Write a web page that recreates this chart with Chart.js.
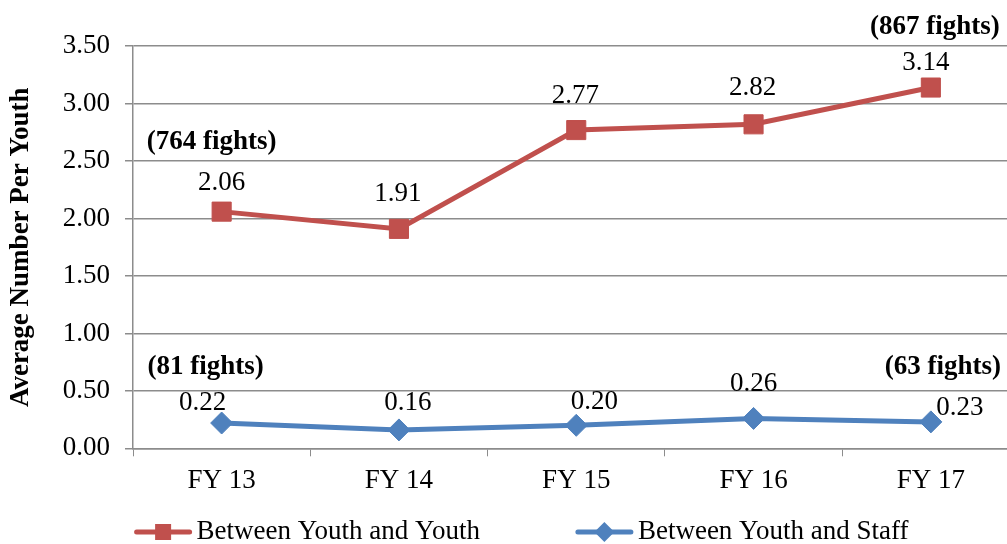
<!DOCTYPE html>
<html>
<head>
<meta charset="utf-8">
<script src="https://cdn.jsdelivr.net/npm/chart.js@4.4.1/dist/chart.umd.min.js"></script>
<style>
  html, body { margin: 0; padding: 0; background: #ffffff; overflow: hidden; }
  #wrap { position: relative; width: 1007px; height: 544px; overflow: hidden; }
  #chart { position: absolute; left: 0; top: 0; display: block; width: 1020px; height: 544px; }
</style>
</head>
<body>
<div id="wrap"><canvas id="chart" width="1020" height="544"></canvas></div>
<script>
// Fiscal years and average fights per youth
const categories = ['FY 13', 'FY 14', 'FY 15', 'FY 16', 'FY 17'];
const youthYouth = [2.06, 1.91, 2.77, 2.82, 3.14];
const youthStaff = [0.22, 0.16, 0.20, 0.26, 0.23];
const seriesNames = ['Between Youth and Youth', 'Between Youth and Staff'];
const yTicks = [0, 0.5, 1.0, 1.5, 2.0, 2.5, 3.0, 3.5];
const yTitle = 'Average Number Per Youth';
const fightNotes = ['(764 fights)', '(867 fights)', '(81 fights)', '(63 fights)'];

// Placement of the value labels (pixel offset from each point)
const labelOffsets = [
  [[0, -29], [-1, -35], [-1, -34], [-1, -36], [-5, -25]],
  [[-19, -20], [9, -27], [18, -23], [0, -35], [29, -14]]
];
// Placement of the fight-count notes: category index, height on the value axis, pixel nudge
const notePlacement = [
  { cat: 0, at: 2.665, dx: -10 },
  { cat: 4, at: 3.667, dx: 4 },
  { cat: 0, at: 0.707, dx: -16 },
  { cat: 4, at: 0.707, dx: 12 }
];

const RED = '#C0504D';
const BLUE = '#4F81BD';
const GRID = '#8C8C8C';
const FONT = "'Liberation Serif', 'Times New Roman', serif";
const FS = 27;

const valueLabels = {
  id: 'valueLabels',
  afterDatasetsDraw(chart) {
    const ctx = chart.ctx;
    ctx.save();
    ctx.font = FS + 'px ' + FONT;
    ctx.fillStyle = '#000';
    ctx.textAlign = 'center';
    ctx.textBaseline = 'middle';
    chart.data.datasets.forEach((ds, di) => {
      const meta = chart.getDatasetMeta(di);
      meta.data.forEach((pt, i) => {
        const off = labelOffsets[di][i];
        ctx.fillText(ds.data[i].toFixed(2), pt.x + off[0], pt.y + off[1]);
      });
    });
    // fight-count notes
    ctx.font = 'bold ' + FS + 'px ' + FONT;
    const xs = chart.scales.x, ys = chart.scales.y;
    fightNotes.forEach((t, k) => {
      const p = notePlacement[k];
      ctx.fillText(t, xs.getPixelForValue(p.cat) + p.dx, ys.getPixelForValue(p.at));
    });
    ctx.restore();
  }
};

// Legend with a line segment and marker for each series
const lineLegend = {
  id: 'lineLegend',
  afterDraw(chart) {
    const ctx = chart.ctx;
    ctx.save();
    ctx.font = FS + 'px ' + FONT;
    const segLen = 57, gap = 5, itemGap = 96, cy = 532, centerX = 521.5;
    const items = chart.data.datasets.map(ds => ({ ds, w: ctx.measureText(ds.label).width }));
    const total = items.reduce((s, it) => s + segLen + gap + it.w, 0) + itemGap * (items.length - 1);
    let x = centerX - total / 2;
    items.forEach(({ ds, w }) => {
      ctx.strokeStyle = ds.borderColor;
      ctx.lineWidth = 5;
      ctx.lineCap = 'round';
      ctx.beginPath();
      ctx.moveTo(x + 2, cy);
      ctx.lineTo(x + segLen - 2, cy);
      ctx.stroke();
      const mx = x + segLen / 2;
      ctx.fillStyle = ds.backgroundColor;
      ctx.beginPath();
      if (ds.pointStyle === 'rect') {
        ctx.rect(mx - 8, cy - 8, 16, 16);
      } else {
        ctx.moveTo(mx, cy - 10); ctx.lineTo(mx + 10, cy); ctx.lineTo(mx, cy + 10); ctx.lineTo(mx - 10, cy);
        ctx.closePath();
      }
      ctx.fill();
      ctx.fillStyle = '#000';
      ctx.textAlign = 'left';
      ctx.textBaseline = 'middle';
      ctx.fillText(ds.label, x + segLen + gap, cy);
      x += segLen + gap + w + itemGap;
    });
    ctx.restore();
  }
};

new Chart(document.getElementById('chart'), {
  type: 'line',
  data: {
    labels: categories,
    datasets: [
      {
        label: seriesNames[0],
        data: youthYouth,
        borderColor: RED,
        backgroundColor: RED,
        borderWidth: 5,
        pointStyle: 'rect',
        pointRadius: 13.5,
        pointBorderWidth: 1,
        pointHoverRadius: 13.5,
        tension: 0
      },
      {
        label: seriesNames[1],
        data: youthStaff,
        borderColor: BLUE,
        backgroundColor: BLUE,
        borderWidth: 5,
        pointStyle: 'rectRot',
        pointRadius: 11,
        pointBorderWidth: 1,
        pointHoverRadius: 11,
        tension: 0
      }
    ]
  },
  options: {
    responsive: false,
    maintainAspectRatio: false,
    devicePixelRatio: 1,
    animation: false,
    layout: { autoPadding: false, padding: { top: 46.2, right: 0.5, bottom: 55.7, left: 0 } },
    plugins: {
      legend: { display: false },
      tooltip: { enabled: false }
    },
    scales: {
      x: {
        offset: true,
        grid: { display: true, drawOnChartArea: false, drawTicks: true, tickLength: 8, color: GRID, offset: true },
        border: { display: true, color: GRID, width: 1.5 },
        ticks: { color: '#000', font: { family: FONT, size: FS }, padding: 8, maxRotation: 0 },
        afterFit(scale) { scale.height = 40; }
      },
      y: {
        min: 0,
        max: 3.5,
        afterBuildTicks(scale) { scale.ticks = yTicks.map(v => ({ value: v })); },
        grid: { color: GRID, lineWidth: 1.5, tickLength: 8, drawTicks: true },
        border: { display: true, color: GRID, width: 1.5 },
        ticks: {
          color: '#000',
          font: { family: FONT, size: FS },
          padding: 15,
          callback: v => Number(v).toFixed(2)
        },
        title: {
          display: true,
          text: yTitle,
          color: '#000',
          font: { family: FONT, size: FS, weight: 'bold' },
          padding: { top: 5, bottom: 0 }
        },
        afterFit(scale) { scale.width = 133; }
      }
    }
  },
  plugins: [valueLabels, lineLegend]
});
</script>
</body>
</html>
